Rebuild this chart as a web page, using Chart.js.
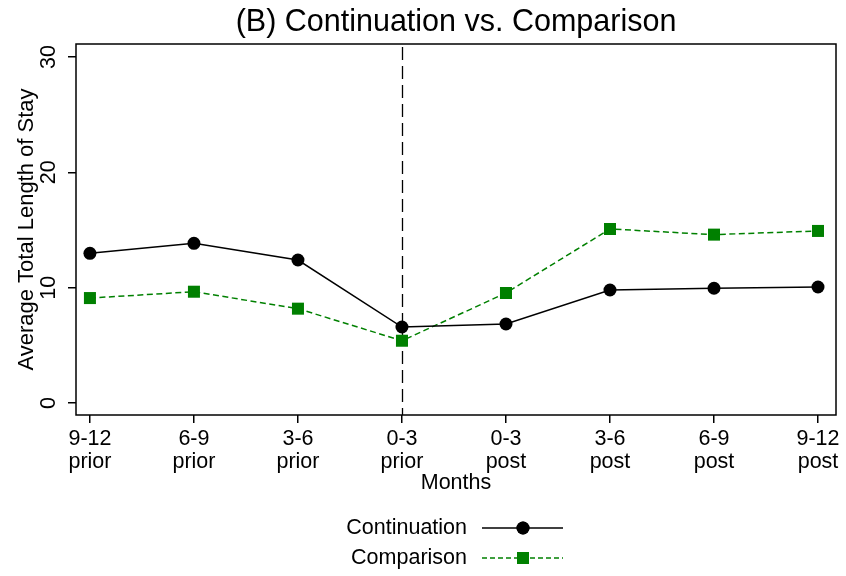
<!DOCTYPE html>
<html>
<head>
<meta charset="utf-8">
<script src="https://cdn.jsdelivr.net/npm/chart.js@4"></script>
<style>
  html, body { margin: 0; padding: 0; background: #fff; }
</style>
</head>
<body>
<canvas id="chart" width="846" height="576"></canvas>
<script>
// data
const months = [
  ["9-12", "prior"], ["6-9", "prior"], ["3-6", "prior"], ["0-3", "prior"],
  ["0-3", "post"], ["3-6", "post"], ["6-9", "post"], ["9-12", "post"]
];
const continuation = [12.98, 13.85, 12.4, 6.59, 6.85, 9.8, 9.95, 10.06];
const comparison = [9.1, 9.65, 8.18, 5.4, 9.54, 15.09, 14.6, 14.92];
const yTicks = [0, 10, 20, 30];
const cutIndex = 3; // dashed line at "0-3 prior"
const titleText = "(B) Continuation vs. Comparison";

const FONT = "'Liberation Sans', Arial, sans-serif";
const FS = 21.5;
const GREEN = "rgb(0,128,0)";

const toPoints = (arr) => arr.map((v, i) => ({ x: i, y: v }));

// frame around the plot region, vertical cut line, title over the plot
const framePlugin = {
  id: "frame",
  beforeDatasetsDraw(chart) {
    const { ctx, chartArea: a, scales } = chart;
    const x = Math.round(scales.x.getPixelForValue(cutIndex)) + 0.5;
    ctx.save();
    ctx.strokeStyle = "#000";
    ctx.lineWidth = 1.3;
    ctx.setLineDash([13, 6]);
    ctx.beginPath();
    ctx.moveTo(x, a.top + 3);
    ctx.lineTo(x, a.bottom);
    ctx.stroke();
    ctx.restore();
  },
  afterDraw(chart) {
    const { ctx, chartArea: a } = chart;
    ctx.save();
    ctx.strokeStyle = "#000";
    ctx.lineWidth = 1.5;
    ctx.strokeRect(a.left, a.top, a.right - a.left, a.bottom - a.top);
    ctx.font = "30.5px " + FONT;
    ctx.fillStyle = "#000";
    ctx.textAlign = "center";
    ctx.textBaseline = "middle";
    ctx.fillText(titleText, (a.left + a.right) / 2, 23);
    ctx.restore();
  }
};

// Stata style legend: label, then line with marker
const legendPlugin = {
  id: "stataLegend",
  afterDraw(chart) {
    const { ctx } = chart;
    const rows = [
      { ds: chart.data.datasets[0], y: 528, dash: [] },
      { ds: chart.data.datasets[1], y: 558, dash: [5, 3] }
    ];
    ctx.save();
    rows.forEach(({ ds, y, dash }) => {
      ctx.font = FS + "px " + FONT;
      ctx.fillStyle = "#000";
      ctx.textAlign = "right";
      ctx.textBaseline = "middle";
      ctx.fillText(ds.label, 467, y);
      ctx.strokeStyle = ds.borderColor;
      ctx.lineWidth = ds.borderWidth;
      ctx.setLineDash(dash);
      ctx.beginPath();
      ctx.moveTo(482, y);
      ctx.lineTo(563, y);
      ctx.stroke();
      ctx.setLineDash([]);
      Chart.helpers.drawPoint(ctx, {
        pointStyle: ds.pointStyle,
        radius: ds.pointRadius,
        rotation: 0,
        borderWidth: 0
      }, 523, y);
      ctx.fillStyle = ds.pointBackgroundColor;
      ctx.fill();
    });
    ctx.restore();
  }
};

new Chart(document.getElementById("chart"), {
  type: "line",
  data: {
    datasets: [
      {
        label: "Continuation",
        data: toPoints(continuation),
        borderColor: "#000",
        borderWidth: 1.5,
        pointStyle: "circle",
        pointRadius: 6.5,
        pointBackgroundColor: "#000",
        pointBorderWidth: 0,
        tension: 0
      },
      {
        label: "Comparison",
        data: toPoints(comparison),
        borderColor: GREEN,
        borderWidth: 1.5,
        borderDash: [6, 3.5],
        pointStyle: "rect",
        pointRadius: 8.5,
        pointBackgroundColor: GREEN,
        pointBorderWidth: 0,
        tension: 0
      }
    ]
  },
  options: {
    responsive: false,
    animation: false,
    devicePixelRatio: 1,
    layout: { padding: { left: 0, right: 10, top: 44, bottom: 80 } },
    plugins: {
      legend: { display: false },
      tooltip: { enabled: false },
      title: { display: false }
    },
    scales: {
      x: {
        type: "linear",
        min: -0.134,
        max: 7.173,
        afterBuildTicks: (s) => { s.ticks = months.map((_, i) => ({ value: i })); },
        afterFit: (s) => { s.height = 81; },
        ticks: {
          callback: (v) => months[v],
          color: "#000",
          font: { family: FONT, size: FS, lineHeight: 1.07 },
          padding: 5,
          maxRotation: 0,
          autoSkip: false
        },
        grid: { drawOnChartArea: false, tickLength: 8, color: "#000", lineWidth: 1.5 },
        border: { display: false },
        title: {
          display: true,
          text: "Months",
          color: "#000",
          font: { family: FONT, size: FS },
          padding: 0
        }
      },
      y: {
        min: -1.04,
        max: 31.13,
        afterBuildTicks: (s) => { s.ticks = yTicks.map((v) => ({ value: v })); },
        afterFit: (s) => { s.width = 76; },
        ticks: {
          color: "#000",
          font: { family: FONT, size: FS },
          minRotation: 90,
          maxRotation: 90,
          crossAlign: "center",
          padding: 7
        },
        grid: { drawOnChartArea: false, tickLength: 8, color: "#000", lineWidth: 1.5 },
        border: { display: false },
        title: {
          display: true,
          text: "Average Total Length of Stay",
          color: "#000",
          font: { family: FONT, size: 22 },
          padding: { top: 14, bottom: 0 }
        }
      }
    }
  },
  plugins: [framePlugin, legendPlugin]
});
</script>
</body>
</html>
